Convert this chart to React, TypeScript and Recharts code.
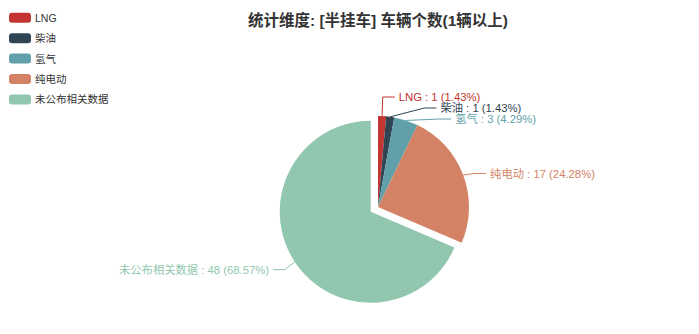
import React from 'react';
import { PieChart, Pie, Cell } from 'recharts';

const categories = ['LNG', '柴油', '氢气', '纯电动', '未公布相关数据'];
const counts = [1, 1, 3, 17, 48];
const colors = ['#c23531', '#2f4554', '#61a0a8', '#d48265', '#91c7ae'];
const selectedName = '未公布相关数据';
const titleText = '统计维度: [半挂车] 车辆个数(1辆以上)';

const data = categories.map((name, i) => ({ name, value: counts[i] }));

const FONT = '"Liberation Sans", "Noto Sans CJK SC", sans-serif';
const CX = 378;
const CY = 207;
const R = 91;
const OFFSET = 8.7;
const LEN = 14;
const LEN2 = 12;
const GAP = 4;
const LABEL_H = 11;
const RAD = Math.PI / 180;

// largest remainder, 2 decimals (like echarts)
function percents(values: number[]) {
  const total = values.reduce((a, b) => a + b, 0);
  const units = 10000;
  const seats = values.map((v) => (v / total) * units);
  const floors = seats.map(Math.floor);
  let left = units - floors.reduce((a, b) => a + b, 0);
  const rem = seats.map((s, i) => s - floors[i]);
  while (left > 0) {
    let max = -1;
    let idx = 0;
    rem.forEach((r, i) => {
      if (r > max) {
        max = r;
        idx = i;
      }
    });
    floors[idx] += 1;
    rem[idx] = 0;
    left--;
  }
  return floors.map((f) => (f / 100).toFixed(2));
}
const pct = percents(counts);

type Lay = { i: number; cx: number; cy: number; dir: number; y: number; textX: number };

function buildLayout(): Lay[] {
  const total = counts.reduce((a, b) => a + b, 0);
  let acc = 0;
  const items: Lay[] = counts.map((v, i) => {
    const start = (acc / total) * 360;
    acc += v;
    const end = (acc / total) * 360;
    const mid = ((start + end) / 2) * RAD;
    const dx = Math.sin(mid);
    const dy = -Math.cos(mid);
    const sel = categories[i] === selectedName;
    const cx = CX + (sel ? dx * OFFSET : 0);
    const cy = CY + (sel ? dy * OFFSET : 0);
    const dir = dx < 0 ? -1 : 1;
    const p2x = cx + dx * (R + LEN);
    return { i, cx, cy, dir, y: cy + dy * (R + LEN), textX: p2x + dir * (LEN2 + GAP) };
  });

  [1, -1].forEach((dir) => {
    const list = items.filter((it) => it.dir === dir).sort((a, b) => a.y - b.y);
    const n = list.length;
    const shiftUp = (end: number, delta: number) => {
      for (let j = end; j >= 0; j--) {
        list[j].y -= delta;
        if (j > 0 && list[j].y > list[j - 1].y + LABEL_H) break;
      }
    };
    const shiftDown = (start: number, end: number, delta: number) => {
      for (let j = start; j < end; j++) {
        list[j].y += delta;
        if (j > start && j + 1 < end && list[j + 1].y > list[j].y + LABEL_H) {
          shiftUp(j, delta / 2);
          return;
        }
      }
      shiftUp(end - 1, delta / 2);
    };
    let lastY = 0;
    for (let i = 0; i < n; i++) {
      const delta = list[i].y - lastY;
      if (delta < 0) shiftDown(i, n, -delta);
      lastY = list[i].y + LABEL_H;
    }
    const changeX = (arr: Lay[], isDown: boolean) => {
      let last = isDown ? Infinity : 0;
      arr.forEach((it) => {
        const dY = Math.abs(it.y - it.cy);
        let dX =
          dY < R + LEN
            ? Math.sqrt((R + LEN + LEN2) ** 2 - dY * dY)
            : Math.abs(it.textX - it.cx);
        if (isDown && dX >= last) dX = last - 10;
        if (!isDown && dX <= last) dX = last + 10;
        it.textX = it.cx + dX * dir;
        last = dX;
      });
    };
    changeX(list.filter((it) => it.y < it.cy), false);
    changeX(list.filter((it) => it.y >= it.cy), true);
  });
  return items.sort((a, b) => a.i - b.i);
}
const layout = buildLayout();
const selIdx = categories.indexOf(selectedName);
const selCenter = { x: layout[selIdx].cx, y: layout[selIdx].cy };

const makeLabel = (wantSelected: boolean) => (props: any) => {
  const { index, cx, cy, midAngle, outerRadius, name, value } = props;
  const isSel = categories[index] === selectedName;
  if (isSel !== wantSelected) return null;
  const lay = layout[index];
  const x1 = cx + outerRadius * Math.cos(-midAngle * RAD);
  const y1 = cy + outerRadius * Math.sin(-midAngle * RAD);
  const p3x = lay.textX - lay.dir * GAP;
  const p2x = p3x - lay.dir * LEN2;
  return (
    <g key={`lab-${index}`}>
      <polyline
        points={`${x1},${y1} ${p2x},${lay.y} ${p3x},${lay.y}`}
        fill="none"
        stroke={colors[index]}
        strokeWidth={1}
      />
      <text
        x={lay.textX}
        y={lay.y}
        textAnchor={lay.dir > 0 ? 'start' : 'end'}
        dominantBaseline="central"
        fill={colors[index]}
        fontSize={11.3}
        fontFamily={FONT}
      >
        {`${name} : ${value} (${pct[index]}%)`}
      </text>
    </g>
  );
};

export default function App() {
  return (
    <div style={{ position: 'absolute', left: 0, top: 0, width: 699, height: 334, background: '#fff' }}>
      <PieChart width={699} height={334} margin={{ top: 0, right: 0, bottom: 0, left: 0 }}>
        <Pie
          data={data}
          dataKey="value"
          nameKey="name"
          cx={CX}
          cy={CY}
          outerRadius={R}
          startAngle={90}
          endAngle={-270}
          stroke="none"
          label={makeLabel(false)}
          labelLine={false}
          isAnimationActive={false}
        >
          {data.map((d, i) => (
            <Cell key={d.name} fill={d.name === selectedName ? 'none' : colors[i]} />
          ))}
        </Pie>
        <Pie
          data={data}
          dataKey="value"
          nameKey="name"
          cx={selCenter.x}
          cy={selCenter.y}
          outerRadius={R}
          startAngle={90}
          endAngle={-270}
          stroke="none"
          label={makeLabel(true)}
          labelLine={false}
          legendType="none"
          isAnimationActive={false}
        >
          {data.map((d, i) => (
            <Cell key={d.name} fill={d.name === selectedName ? colors[i] : 'none'} />
          ))}
        </Pie>
      </PieChart>
      <svg
        width={699}
        height={334}
        style={{ position: 'absolute', left: 0, top: 0, pointerEvents: 'none' }}
      >
        <text
          x={378}
          y={20.5}
          textAnchor="middle"
          dominantBaseline="central"
          fontSize={15.5}
          fontWeight="bold"
          fill="#333"
          fontFamily={FONT}
        >
          {titleText}
        </text>
        {categories.map((c, i) => (
          <g key={c}>
            <rect x={9} y={12.8 + i * 20.4} width={22} height={10} rx={3} fill={colors[i]} />
            <text
              x={35}
              y={17.8 + i * 20.4}
              dominantBaseline="central"
              fontSize={10.5}
              fill="#333"
              fontFamily={FONT}
            >
              {c}
            </text>
          </g>
        ))}
      </svg>
    </div>
  );
}
